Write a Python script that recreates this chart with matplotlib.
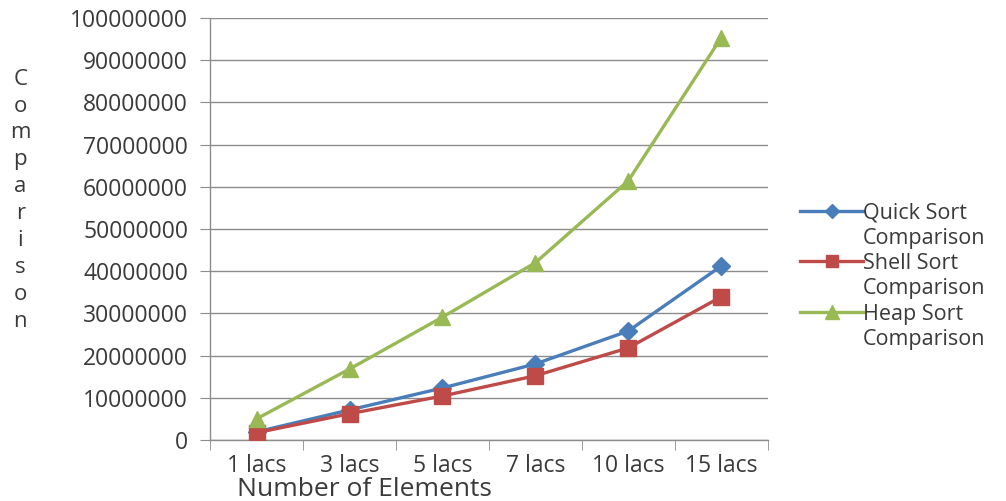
import matplotlib.pyplot as plt
from matplotlib.lines import Line2D
import numpy as np

# input sizes (in lakhs) and comparison counts for each sorting algorithm
sizeLabels = ["1 lacs", "3 lacs", "5 lacs", "7 lacs", "10 lacs", "15 lacs"]
quickSort = [1.9e6, 7.1e6, 12.3e6, 18.0e6, 25.8e6, 41.2e6]
shellSort = [1.7e6, 6.2e6, 10.4e6, 15.2e6, 21.8e6, 33.9e6]
heapSort = [5.0e6, 16.8e6, 29.1e6, 42.0e6, 61.4e6, 95.3e6]
seriesNames = ["Quick Sort", "Shell Sort", "Heap Sort"]
yTicks = np.arange(0, 100000001, 10000000)

plt.rcParams["font.family"] = ["Open Sans", "DejaVu Sans"]
textColor = "#3a3a3a"
gridColor = "#8c8c8c"

fig = plt.figure(figsize=(10.06, 5.01), dpi=100)
ax = fig.add_axes([0.209, 0.122, 0.554, 0.842])

xPos = np.arange(len(sizeLabels))
styleList = [("#4a7ebb", "D", 9), ("#be4b48", "s", 11), ("#98b954", "^", 12)]
handleList = []
labelList = []
for values, name, (colorName, markerName, markerSize) in zip(
        [quickSort, shellSort, heapSort], seriesNames, styleList):
    ax.plot(xPos, values, color=colorName, linewidth=2.4, marker=markerName,
            markersize=markerSize, zorder=3)
    # legend row with the marker, then a second row without one
    handleList.append(Line2D([], [], color=colorName, linewidth=2.4, marker=markerName,
                             markersize=markerSize * 0.8))
    labelList.append(name)
    handleList.append(Line2D([], [], alpha=0))
    labelList.append("Comparison")

ax.set_xlim(-0.5, len(sizeLabels) - 0.5)
ax.set_ylim(0, 100000000)
ax.set_yticks(yTicks)
ax.set_yticklabels([str(int(v)) for v in yTicks])
ax.set_xticks(xPos)
ax.set_xticklabels(sizeLabels)
ax.set_xticks(np.arange(-0.5, len(sizeLabels)), minor=True)

ax.grid(axis="y", color=gridColor, linewidth=1.0)
ax.set_axisbelow(True)
for side in ["top", "right"]:
    ax.spines[side].set_visible(False)
for side in ["left", "bottom"]:
    ax.spines[side].set_color(gridColor)
    ax.spines[side].set_linewidth(1.0)

ax.tick_params(axis="y", length=7, color=gridColor, labelsize=16.5, labelcolor=textColor, pad=9)
ax.tick_params(axis="x", which="major", length=0, labelsize=16.5, labelcolor=textColor, pad=10)
ax.tick_params(axis="x", which="minor", length=7, color=gridColor)

ax.set_xlabel("Number of Elements", fontsize=19, color=textColor, labelpad=0)
ax.xaxis.label.set_verticalalignment("baseline")
ax.xaxis.set_label_coords(0.276, -0.133)

ax.set_ylabel("C\no\nm\np\na\nr\ni\ns\no\nn", rotation=0, fontsize=16,
              color=textColor, va="center", ha="center", linespacing=1.37)
ax.yaxis.set_label_coords(-0.341, 0.568)

ax.legend(handleList, labelList, loc="upper left", bbox_to_anchor=(1.059, 0.563),
          frameon=False, fontsize=15.5, handlelength=2.9, handletextpad=0.0,
          labelspacing=0.2, labelcolor=textColor, borderaxespad=0, borderpad=0)

fig.savefig("out.png", dpi=100)
